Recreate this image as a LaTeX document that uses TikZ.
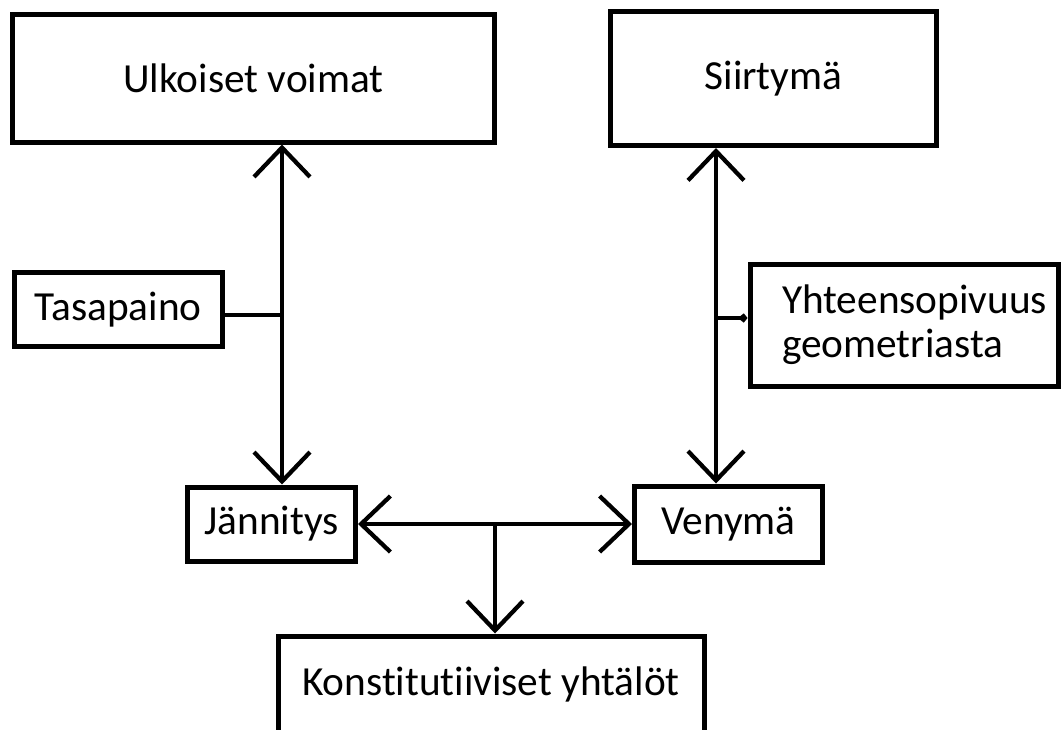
\documentclass[tikz,border=0pt]{standalone}
\usepackage{fontspec}
\setmainfont[Ligatures=NoCommon]{Carlito}
\usetikzlibrary{arrows.meta}
\begin{document}
\begin{tikzpicture}[x=0.75pt,y=-0.75pt,
  box/.style={draw,line width=3.75pt,inner sep=0pt,font=\fontsize{31}{33}\selectfont,align=center},
  conn/.style={line width=3.2pt},
  arr/.style={conn,-{Straight Barb[length=22pt,width=42pt]}},
  arrs/.style={conn,{Straight Barb[length=22pt,width=42pt]}-{Straight Barb[length=22pt,width=42pt]}}]
\clip (0,0) rectangle (1061,729);
\fill[white] (0,0) rectangle (1061,729);
\node[box,minimum width={482*0.75pt},minimum height={128*0.75pt}] (uv) at (253.5,78) {Ulkoiset voimat};
\node[box,minimum width={326*0.75pt},minimum height={134*0.75pt}] (si) at (773.5,78.5) {Siirtymä};
\node[box,minimum width={208*0.75pt},minimum height={74*0.75pt}] (ta) at (118,309.5) {Tasapaino};
\node[box,minimum width={308*0.75pt},minimum height={122*0.75pt},align=left,text width={244*0.75pt}] (yh) at (904,325) {Yhteensopivuus\\geometriasta};
\node[box,minimum width={168*0.75pt},minimum height={74*0.75pt}] (ja) at (271.5,524) {Jännitys};
\node[box,minimum width={188*0.75pt},minimum height={76*0.75pt}] (ve) at (728.5,524) {Venymä};
\node[box,minimum width={426*0.75pt},minimum height={96*0.75pt}] (ko) at (491,684) {Konstitutiiviset yhtälöt};
\coordinate (lx) at (282,0);
\coordinate (rx) at (716,0);
\coordinate (mx) at (495,0);
\draw[arrs] (uv.south -| lx) -- (ja.north -| lx);
\draw[arrs] (si.south -| rx) -- (ve.north -| rx);
\draw[conn] (ta.east |- 0,315) coordinate (tae) -- (tae -| lx);
\coordinate (yhw) at (yh.west |- 0,318);
\draw[conn,-{Straight Barb[length=2pt,width=5pt]}] (yhw -| rx) -- (yhw);
\draw[arrs] (ja.east) -- (ve.west);
\draw[arr] (ja.east -| mx) -- (ko.north -| mx);
\end{tikzpicture}
\end{document}
